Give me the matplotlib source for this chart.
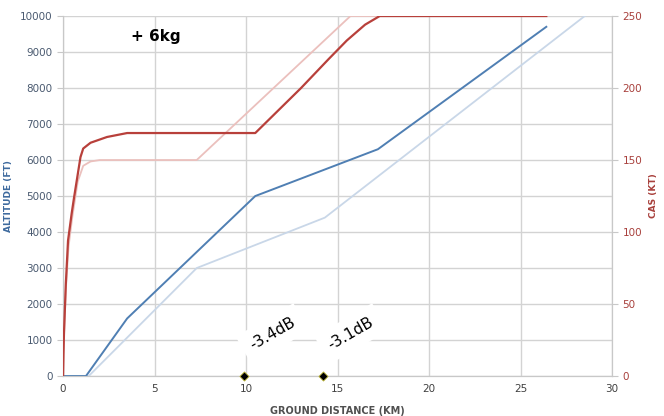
import matplotlib
matplotlib.use('Agg')
import matplotlib.pyplot as plt

# Altitude profiles (ground distance km, altitude ft)
alt_dist = [0, 1.25, 3.5, 10.5, 17.2, 26.4]
alt_ft = [0, 0, 1600, 5000, 6300, 9700]
ref_alt_dist = [0, 1.4, 7.3, 14.3, 28.5]
ref_alt_ft = [0, 0, 3000, 4400, 10000]

# Speed profiles (ground distance km, CAS kt)
cas_dist = [0, 0.02, 0.05, 0.15, 0.27, 0.47, 0.6, 0.8, 0.95, 1.1, 1.5, 2.4, 3.5,
            10.5, 13.0, 14.5, 15.5, 16.5, 17.3, 26.4]
cas_kt = [0, 15, 30, 64, 94, 113, 124, 140, 152, 158, 162, 166, 168.75,
          168.75, 200, 220, 233, 244, 250, 250]
ref_cas_dist = [0, 0.05, 0.15, 0.3, 0.5, 0.8, 1.1, 1.5, 2.0, 7.3, 15.7, 26.4]
ref_cas_kt = [0, 28, 60, 90, 110, 135, 146, 149, 150, 150, 250, 250]

# Noise markers
noise_x = [9.9, 14.2]
noise_y = [0, 0]
noise_labels = ['-3.4dB', '-3.1dB']

blue = '#4f7fb3'
light_blue = '#c9d7e8'
red = '#b8403b'
pink = '#ebc0bd'
grid_col = '#d3d3d3'

fig = plt.figure(figsize=(6.64, 4.16), dpi=100, facecolor='white')
ax = fig.add_axes([0.095, 0.096, 0.827, 0.8655])
ax2 = ax.twinx()

ax.set_xlim(0, 30)
ax.set_ylim(0, 10000)
ax2.set_ylim(0, 250)
ax.set_xticks(range(0, 31, 5))
ax.set_yticks(range(0, 10001, 1000))
ax2.set_yticks(range(0, 251, 50))

ax.grid(True, color=grid_col, linewidth=1.0)
ax.set_axisbelow(True)
for a in (ax, ax2):
    for s in a.spines.values():
        s.set_color('#c8c8c8')
    a.spines['top'].set_visible(False)

ax.tick_params(axis='y', colors='#c8c8c8', labelcolor='#4a5a70', labelsize=7.5, length=4)
ax.tick_params(axis='x', colors='#c8c8c8', labelcolor='#404040', labelsize=7.5, length=0, pad=6)
ax2.tick_params(axis='y', colors='#c8c8c8', labelcolor='#a8403c', labelsize=7.5, length=4)

ax.plot(ref_alt_dist, ref_alt_ft, color=light_blue, linewidth=1.3, zorder=3)
ax.plot(alt_dist, alt_ft, color=blue, linewidth=1.4, zorder=4)
ax2.plot(ref_cas_dist, ref_cas_kt, color=pink, linewidth=1.3, zorder=3)
ax2.plot(cas_dist, cas_kt, color=red, linewidth=1.6, zorder=4)

ax2.scatter(noise_x, [v / 40.0 for v in noise_y], marker='D', s=22, color='black',
            edgecolors='#c8c040', linewidths=0.6, zorder=6, clip_on=False)
for x, lab in zip(noise_x, noise_labels):
    ax.text(x + 0.15, 650, lab, rotation=30, fontsize=11, color='black',
            ha='left', va='bottom', zorder=7,
            bbox=dict(facecolor='white', edgecolor='none', pad=6))

ax.text(3.7, 9300, '+ 6kg', fontsize=11, fontweight='bold', color='black')

ax.set_xlabel('GROUND DISTANCE (KM)', fontsize=7, fontweight='bold', color='#505050', labelpad=8)
ax.set_ylabel('ALTITUDE (FT)', fontsize=6.5, fontweight='bold', color='#3e6a9e', labelpad=5)
ax2.set_ylabel('CAS (KT)', fontsize=6.5, fontweight='bold', color='#a8403c', labelpad=5)

fig.savefig('out.png', dpi=100, facecolor='white')
